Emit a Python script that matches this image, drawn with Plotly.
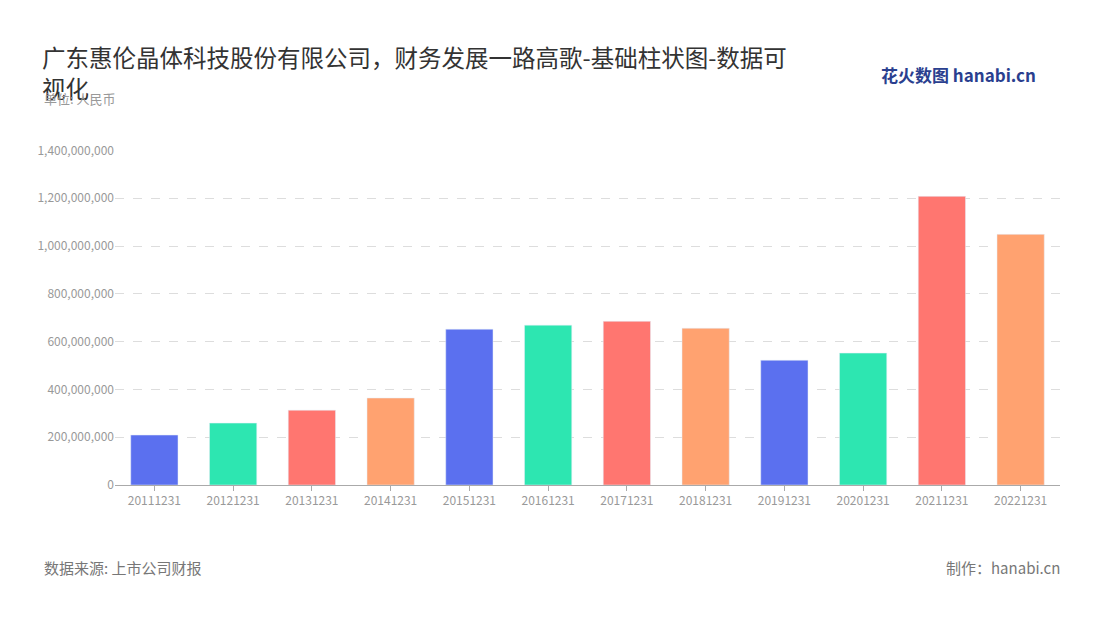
import plotly.graph_objects as go

years = ["20111231", "20121231", "20131231", "20141231", "20151231", "20161231",
         "20171231", "20181231", "20191231", "20201231", "20211231", "20221231"]
values = [209e6, 259e6, 313e6, 364e6, 652e6, 669e6, 685e6, 656e6, 522e6, 552e6, 1208e6, 1049e6]
palette = ["#5B70EF", "#2DE6B1", "#FF7670", "#FFA270"]
colors = [palette[i % 4] for i in range(len(years))]
yticks = [0, 200e6, 400e6, 600e6, 800e6, 1000e6, 1200e6, 1400e6]

font = "Noto Sans CJK SC"
W, H = 1100, 620
L, R, T, B = 107, 48, 142, 143
OFF = 8  # page body margin

fig = go.Figure(go.Bar(x=years, y=values, marker_color=colors, width=0.6))

fig.update_layout(
    width=W, height=H,
    paper_bgcolor="white", plot_bgcolor="white",
    margin=dict(l=L, r=R, t=T, b=B),
    font=dict(family=font, color="#999"),
    showlegend=False,
    xaxis=dict(showline=True, linecolor="#aaa", ticks="outside", tickcolor="#aaa",
               tickfont=dict(size=12, color="#999")),
    yaxis=dict(range=[0, 1.402e9], tickvals=yticks,
               ticktext=[f"{v:,.0f}" for v in yticks],
               showgrid=True, gridcolor="#ddd", griddash="dash", zeroline=False,
               tickfont=dict(size=12, color="#999")),
)


def px_note(text, x, y, xanchor, yanchor, size, color, **kw):
    # x, y in screenshot pixels from top-left
    fig.add_annotation(
        text=text, showarrow=False, xref="paper", yref="paper",
        x=(x - OFF - L) / (W - L - R), y=(H - (y - OFF) - B) / (H - T - B),
        xanchor=xanchor, yanchor=yanchor, align="left",
        font=dict(size=size, color=color, family=font), **kw)


px_note("广东惠伦晶体科技股份有限公司，财务发展一路高歌-基础柱状图-数据可<br>视化",
        40, 38, "left", "top", 23.5, "#333")
px_note("单位: 人民币", 42, 87, "left", "top", 13, "#999")
px_note("<b>花火数图</b> <b>hanabi.cn</b>", 1038, 60, "right", "top", 17, "#2a3f8f")
px_note("数据来源: 上市公司财报", 42, 567, "left", "middle", 15, "#777")
px_note("制作：hanabi.cn", 1062, 567, "right", "middle", 15, "#777")

fig.write_html("out.html")
